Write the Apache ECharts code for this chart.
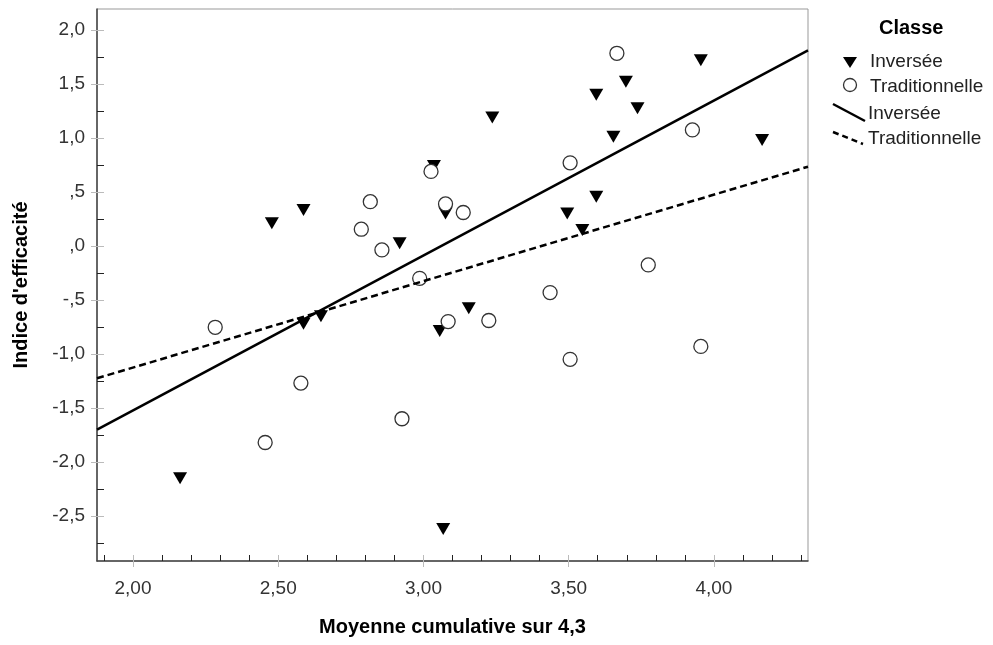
<!DOCTYPE html>
<html>
<head>
<meta charset="utf-8">
<script src="https://cdn.jsdelivr.net/npm/echarts@6/dist/echarts.min.js"></script>
<style>
    html, body { margin: 0; background: #fff; }
    #chart { width: 993px; height: 645px; }
</style>
</head>
<body>
<div id="chart"></div>
<script>
    // nuage de points : Inversée (triangles) / Traditionnelle (cercles)
    const invX = [3.955, 3.697, 3.595, 3.737, 3.237, 3.654, 4.166, 3.036, 3.595, 3.495, 3.076, 3.547, 2.918, 2.587, 2.478, 3.156, 3.056, 2.647, 2.587, 2.162, 3.068];
    const invY = [1.72, 1.52, 1.40, 1.275, 1.19, 1.01, 0.98, 0.74, 0.456, 0.30, 0.30, 0.148, 0.025, 0.333, 0.21, -0.577, -0.787, -0.65, -0.72, -2.15, -2.62];

    const tradX = [3.666, 3.926, 3.505, 3.026, 2.817, 3.076, 3.137, 2.786, 2.857, 3.774, 2.987, 3.436, 3.085, 3.225, 2.283, 2.578, 2.455, 2.926, 3.505, 3.955];
    const tradY = [1.784, 1.074, 0.77, 0.69, 0.41, 0.389, 0.31, 0.155, -0.037, -0.176, -0.30, -0.432, -0.70, -0.69, -0.753, -1.27, -1.82, -1.60, -1.05, -0.93];

    // droites d'ajustement (extrémités)
    const fitX = [1.876, 4.324];
    const fitInv = [-1.70, 1.81];
    const fitTrad = [-1.225, 0.734];

    // graduations
    const xMajor = [2.0, 2.5, 3.0, 3.5, 4.0];
    const xMinor = [1.9, 2.1, 2.2, 2.3, 2.4, 2.6, 2.7, 2.8, 2.9, 3.1, 3.2, 3.3, 3.4, 3.6, 3.7, 3.8, 3.9, 4.1, 4.2, 4.3];
    const yMajor = [-2.5, -2.0, -1.5, -1.0, -0.5, 0.0, 0.5, 1.0, 1.5, 2.0];
    const yMinor = [-2.75, -2.25, -1.75, -1.25, -0.75, -0.25, 0.25, 0.75, 1.25, 1.75];

    const X_MIN = 1.876, X_MAX = 4.324;
    const Y_MIN = -2.917, Y_MAX = 2.194;

    const chart = echarts.init(document.getElementById('chart'));

    // format SPSS : virgule décimale, pas de zéro devant
    function fmtY(v) {
        let s = Math.abs(v).toFixed(1).replace('.', ',');
        if (s.indexOf('0,') === 0) s = s.slice(1);
        return (v < 0 ? '-' : '') + s;
    }
    function fmtX(v) {
        return v.toFixed(2).replace('.', ',');
    }

    function tickAxis(base, values, inside, len, color) {
        return Object.assign({
            type: 'value',
            axisLine: { show: false, onZero: false },
            axisTick: { show: true, inside: inside, length: len, customValues: values, lineStyle: { color: color, width: 1 } },
            axisLabel: { show: false },
            splitLine: { show: false }
        }, base);
    }

    const xBase = { min: X_MIN, max: X_MAX, position: 'bottom' };
    const yBase = { min: Y_MIN, max: Y_MAX, position: 'left' };

    const option = {
        animation: false,
        backgroundColor: '#fff',
        textStyle: { fontFamily: 'Liberation Sans, Arial, sans-serif' },
        grid: {
            left: 97, right: 185, top: 9, bottom: 84,
            show: true, borderColor: '#999', borderWidth: 1
        },
        xAxis: [
            {
                type: 'value', min: X_MIN, max: X_MAX, position: 'bottom',
                name: 'Moyenne cumulative sur 4,3',
                nameLocation: 'middle',
                nameGap: 56,
                nameTextStyle: { fontSize: 20, fontWeight: 'bold', color: '#000' },
                axisLine: { show: true, onZero: false, lineStyle: { color: '#444', width: 1.5 } },
                axisTick: { show: true, length: 6, customValues: xMajor, lineStyle: { color: '#bbb' } },
                axisLabel: { customValues: xMajor, formatter: fmtX, fontSize: 19, color: '#333', margin: 18 },
                splitLine: { show: false }
            },
            tickAxis(xBase, xMajor, true, 6, '#bbb'),
            tickAxis(xBase, xMinor, true, 6, '#222')
        ],
        yAxis: [
            {
                type: 'value', min: Y_MIN, max: Y_MAX, position: 'left',
                name: "Indice d'efficacité",
                nameLocation: 'middle',
                nameGap: 66,
                nameTextStyle: { fontSize: 20, fontWeight: 'bold', color: '#000' },
                axisLine: { show: true, onZero: false, lineStyle: { color: '#444', width: 1.5 } },
                axisTick: { show: true, length: 6, customValues: yMajor, lineStyle: { color: '#bbb' } },
                axisLabel: { customValues: yMajor, formatter: fmtY, fontSize: 19, color: '#333', margin: 12 },
                splitLine: { show: false }
            },
            tickAxis(yBase, yMajor, true, 7, '#bbb'),
            tickAxis(yBase, yMinor, true, 7, '#222')
        ],
        series: [
            {
                name: 'Inversée',
                type: 'scatter',
                symbol: 'triangle',
                symbolRotate: 180,
                symbolSize: [14, 12],
                itemStyle: { color: '#000', opacity: 1 },
                data: invX.map((x, i) => [x, invY[i]]),
                z: 2
            },
            {
                name: 'Traditionnelle',
                type: 'scatter',
                symbol: 'circle',
                symbolSize: 14,
                itemStyle: { color: '#fff', borderColor: '#333', borderWidth: 1.3, opacity: 1 },
                data: tradX.map((x, i) => [x, tradY[i]]),
                z: 3
            },
            {
                name: 'Inversée',
                type: 'line',
                symbol: 'none',
                lineStyle: { color: '#000', width: 2.5 },
                data: fitX.map((x, i) => [x, fitInv[i]]),
                z: 4
            },
            {
                name: 'Traditionnelle',
                type: 'line',
                symbol: 'none',
                lineStyle: { color: '#000', width: 2.5, type: [7, 4] },
                data: fitX.map((x, i) => [x, fitTrad[i]]),
                z: 4
            }
        ],
        // légende dessinée à la main (deux séries portent le même nom)
        graphic: [
            { type: 'text', left: 879, top: 18, style: { text: 'Classe', font: 'bold 20px Liberation Sans, Arial, sans-serif', fill: '#000' } },
            { type: 'polygon', shape: { points: [[843, 57], [857, 57], [850, 68]] }, style: { fill: '#000' } },
            { type: 'text', left: 870, top: 52, style: { text: 'Inversée', font: '19px Liberation Sans, Arial, sans-serif', fill: '#222' } },
            { type: 'circle', shape: { cx: 850, cy: 85, r: 6.5 }, style: { fill: '#fff', stroke: '#333', lineWidth: 1.3 } },
            { type: 'text', left: 870, top: 77, style: { text: 'Traditionnelle', font: '19px Liberation Sans, Arial, sans-serif', fill: '#222' } },
            { type: 'line', shape: { x1: 833, y1: 104, x2: 865, y2: 121 }, style: { stroke: '#000', lineWidth: 2.5 } },
            { type: 'text', left: 868, top: 104, style: { text: 'Inversée', font: '19px Liberation Sans, Arial, sans-serif', fill: '#222' } },
            { type: 'line', shape: { x1: 833, y1: 132, x2: 863, y2: 144 }, style: { stroke: '#000', lineWidth: 2.5, lineDash: [6, 4] } },
            { type: 'text', left: 868, top: 129, style: { text: 'Traditionnelle', font: '19px Liberation Sans, Arial, sans-serif', fill: '#222' } }
        ]
    };

    chart.setOption(option);
</script>
</body>
</html>
